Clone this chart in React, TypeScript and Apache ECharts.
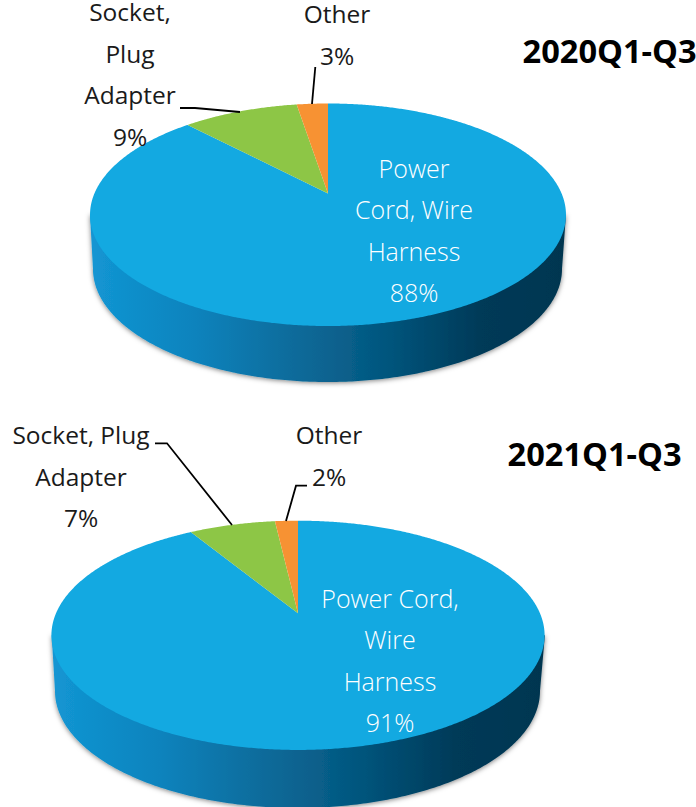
import React, { useEffect, useRef } from "react";
import * as echarts from "echarts";

const categories = ["Power Cord, Wire Harness", "Socket, Plug Adapter", "Other"];
const shares2020 = [88, 9.45, 2.55];
const shares2021 = [91.37, 6.82, 1.81];
const sliceColors = ["#13A9E1", "#8DC646", "#F79233"];
const wallStops = [
  [0, "#1396D3"],
  [0.22, "#0A83BD"],
  [0.42, "#0E6C9C"],
  [0.62, "#03567E"],
  [0.82, "#023A58"],
  [1, "#003650"],
];

const FONT = "'Open Sans', 'Noto Sans', sans-serif";
const LINE = 41.5;

type Geo = {
  ax: number; ay: number; a: number; b: number; e: number;
  wcx: number; wcy: number; wrx: number; wry: number;
  cx: number; cy: number; rx: number;
};
const geo2020: Geo = { ax: 328, ay: 193.5, a: 233.6, b: 107.2, e: 0.191, cx: 328, cy: 214.5, rx: 238, wcx: 327.5, wcy: 269, wrx: 234.5, wry: 113 };
const geo2021: Geo = { ax: 298, ay: 613.3, a: 242, b: 110.4, e: 0.192, cx: 298.3, cy: 635.3, rx: 246.6, wcx: 297.5, wcy: 691, wrx: 242.5, wry: 117 };

function rim(g: Geo, share: number): number[] {
  const t = (share / 100) * Math.PI * 2;
  const k = 1 + g.e * Math.cos(t);
  return [g.ax + (g.a * Math.sin(t)) / k, g.ay - (g.b * Math.cos(t)) / k];
}

function sliceSeries(g: Geo, shares: number[]) {
  return {
    type: "custom",
    coordinateSystem: "none",
    silent: true,
    z: 3,
    data: shares.map((v) => [v]),
    renderItem: (params: any, api: any) => {
      const i = params.dataIndex;
      const start = shares.slice(0, i).reduce((s, v) => s + v, 0);
      const val = api.value(0);
      const pts: number[][] = [[g.ax, g.ay]];
      const n = Math.max(8, Math.ceil(val * 8));
      for (let k = 0; k <= n; k++) pts.push(rim(g, start + (val * k) / n));
      return { type: "polygon", shape: { points: pts }, style: { fill: sliceColors[i], stroke: null } };
    },
  };
}

function wallSeries(g: Geo) {
  return {
    type: "custom",
    coordinateSystem: "none",
    silent: true,
    z: 2,
    data: [[1]],
    renderItem: () => {
      const pts: number[][] = [[g.cx - g.rx, g.cy]];
      for (let k = 0; k <= 240; k++) {
        const t = Math.PI - (k / 240) * Math.PI;
        pts.push([g.wcx + g.wrx * Math.cos(t), g.wcy + g.wry * Math.sin(t)]);
      }
      pts.push([g.cx + g.rx, g.cy]);
      return {
        type: "polygon",
        shape: { points: pts },
        style: {
          fill: new echarts.graphic.LinearGradient(0, 0, 1, 0, wallStops.map(([offset, color]) => ({ offset, color })) as any),
          shadowColor: "rgba(0,0,0,0.5)",
          shadowBlur: 5,
          shadowOffsetY: 1,
        },
      };
    },
  };
}

const pct = (v: number) => Math.round(v) + "%";

function label(lines: string[], x: number, y: number, fill = "#1A1A1A", font = `400 24.5px ${FONT}`) {
  return lines.map((text, i) => ({
    type: "text",
    z: 100,
    x,
    y: y + i * LINE,
    style: { text, fill, font, align: "center", verticalAlign: "middle" },
  }));
}
const whiteFont = `300 25px ${FONT}`;
function title(text: string, x: number, y: number) {
  return {
    type: "text",
    z: 100,
    x,
    y,
    style: { text, fill: "#000", font: `bold 32.6px ${FONT}`, align: "left", verticalAlign: "middle" },
  };
}
function leader(points: number[][]) {
  return {
    type: "polyline",
    z: 100,
    shape: { points },
    style: { stroke: "#000", lineWidth: 1.8, fill: null },
  };
}

export default function App() {
  const ref = useRef<HTMLDivElement>(null);
  useEffect(() => {
    document.body.style.margin = "0";
    const chart = echarts.init(ref.current!, null, { renderer: "svg" });
    chart.setOption({
      animation: false,
      backgroundColor: "#fff",
      series: [
        wallSeries(geo2020),
        sliceSeries(geo2020, shares2020),
        wallSeries(geo2021),
        sliceSeries(geo2021, shares2021),
      ],
      graphic: {
        elements: [
          title("2020Q1-Q3", 522.5, 50),
          title("2021Q1-Q3", 507.5, 453),
          ...label(["Socket,", "Plug", "Adapter", pct(shares2020[1])], 130, 11.5),
          ...label(["Other", pct(shares2020[2])], 337, 13.5),
          ...label(["Power", "Cord, Wire", "Harness", pct(shares2020[0])], 414, 167.5, "#FFFFFF", whiteFont),
          ...label(["Socket, Plug", "Adapter", pct(shares2021[1])], 81, 434.5),
          ...label(["Other", pct(shares2021[2])], 329, 434.5),
          ...label(["Power Cord,", "Wire", "Harness", pct(shares2021[0])], 390, 597.5, "#FFFFFF", whiteFont),
          leader([[180, 108], [195, 108], [240, 112]]),
          leader([[315.3, 67], [312, 104]]),
          leader([[155, 443.3], [167, 443.3], [232, 525]]),
          leader([[307, 485.7], [296, 485.7], [286, 521]]),
        ],
      },
    });
    return () => chart.dispose();
  }, []);
  return <div ref={ref} style={{ width: 696, height: 807 }} aria-label={categories.join(", ")} />;
}
